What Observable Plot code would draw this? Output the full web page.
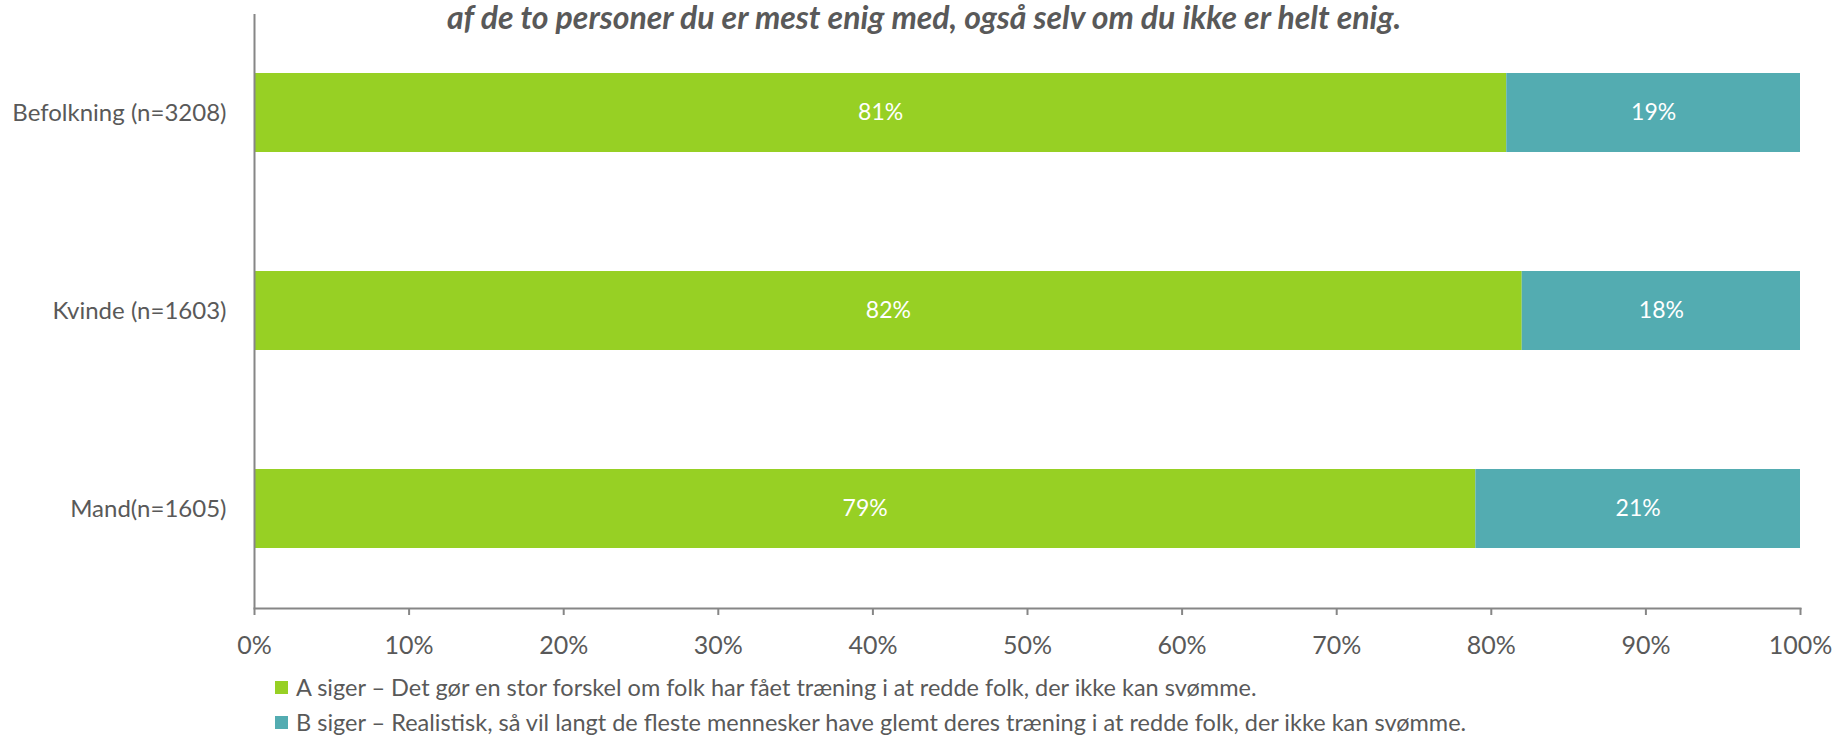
<!DOCTYPE html>
<html><head><meta charset="utf-8">
<script src="https://cdn.jsdelivr.net/npm/d3@7"></script>
<script src="https://cdn.jsdelivr.net/npm/@observablehq/plot@0.6"></script>
<style>
body{margin:0;background:#fff;font-family:Lato,"Open Sans",sans-serif;}
#wrap{position:relative;width:1835px;height:737px;overflow:hidden;}
#title{position:absolute;left:0;width:1848px;top:1px;line-height:32px;text-align:center;font-weight:bold;font-style:italic;font-size:32px;color:#595959;white-space:nowrap;z-index:2;}
#chart{position:absolute;left:0;top:0;}
.leg{position:absolute;left:275px;font-size:23.5px;color:#595959;line-height:30px;white-space:nowrap;display:flex;align-items:center;}
.sw{display:inline-block;width:13px;height:13px;margin-right:8px;}
</style></head>
<body>
<div id="wrap">
<div id="chart"></div>
<div id="title"></div>
<div id="legend"></div>
</div>
<script>
const titleText = "af de to personer du er mest enig med, også selv om du ikke er helt enig.";
const categories = ["Befolkning (n=3208)", "Kvinde (n=1603)", "Mand(n=1605)"];
const seriesNames = [
  "A siger – Det gør en stor forskel om folk har fået træning i at redde folk, der ikke kan svømme.",
  "B siger – Realistisk, så vil langt de fleste mennesker have glemt deres træning i at redde folk, der ikke kan svømme."
];
const valuesA = [81, 82, 79];
const valuesB = [19, 18, 21];
const xTicks = [0, 10, 20, 30, 40, 50, 60, 70, 80, 90, 100];
const colors = ["#97D024", "#53ACB1"];

const data = [];
categories.forEach((c, i) => {
  data.push({category: c, series: seriesNames[0], value: valuesA[i]});
  data.push({category: c, series: seriesNames[1], value: valuesB[i]});
});

document.getElementById("title").textContent = titleText;

const gray = "#868686";
const plot = Plot.plot({
  width: 1835,
  height: 665,
  marginTop: 14,
  marginBottom: 57,
  marginLeft: 254,
  marginRight: 35,
  style: {fontFamily: "Lato, 'Open Sans', sans-serif", fontSize: "21px", color: "#595959", background: "transparent"},
  x: {domain: [0, 100], ticks: xTicks, tickFormat: d => d + "%"},
  y: {domain: categories, paddingInner: 0.6, paddingOuter: 0.3},
  color: {domain: seriesNames, range: colors},
  marks: [
    Plot.barX(data, Plot.stackX({x: "value", y: "category", fill: "series", z: "series", order: seriesNames})),
    Plot.text(data, Plot.stackX({x: "value", y: "category", z: "series", text: d => d.value + "%", fill: "white", fontSize: 23, order: seriesNames})),
    Plot.frame({anchor: "bottom", stroke: gray, strokeWidth: 2}),
    Plot.ruleX([0], {stroke: gray, strokeWidth: 2}),
    Plot.axisX({ticks: xTicks, tickFormat: d => d + "%", tickSize: 7, tickPadding: 21, stroke: gray, strokeWidth: 2, fill: "#595959", label: null, fontSize: 25}),
    Plot.axisY({tickSize: 0, tickPadding: 28, label: null, fill: "#595959", fontSize: 24})
  ]
});
document.getElementById("chart").appendChild(plot);

const legend = document.getElementById("legend");
const tops = [672, 707];
seriesNames.forEach((s, i) => {
  const d = document.createElement("div");
  d.className = "leg";
  d.style.top = tops[i] + "px";
  const sw = document.createElement("span");
  sw.className = "sw";
  sw.style.background = colors[i];
  d.appendChild(sw);
  const t = document.createElement("span");
  t.textContent = s;
  d.appendChild(t);
  legend.appendChild(d);
});
</script>
</body></html>
